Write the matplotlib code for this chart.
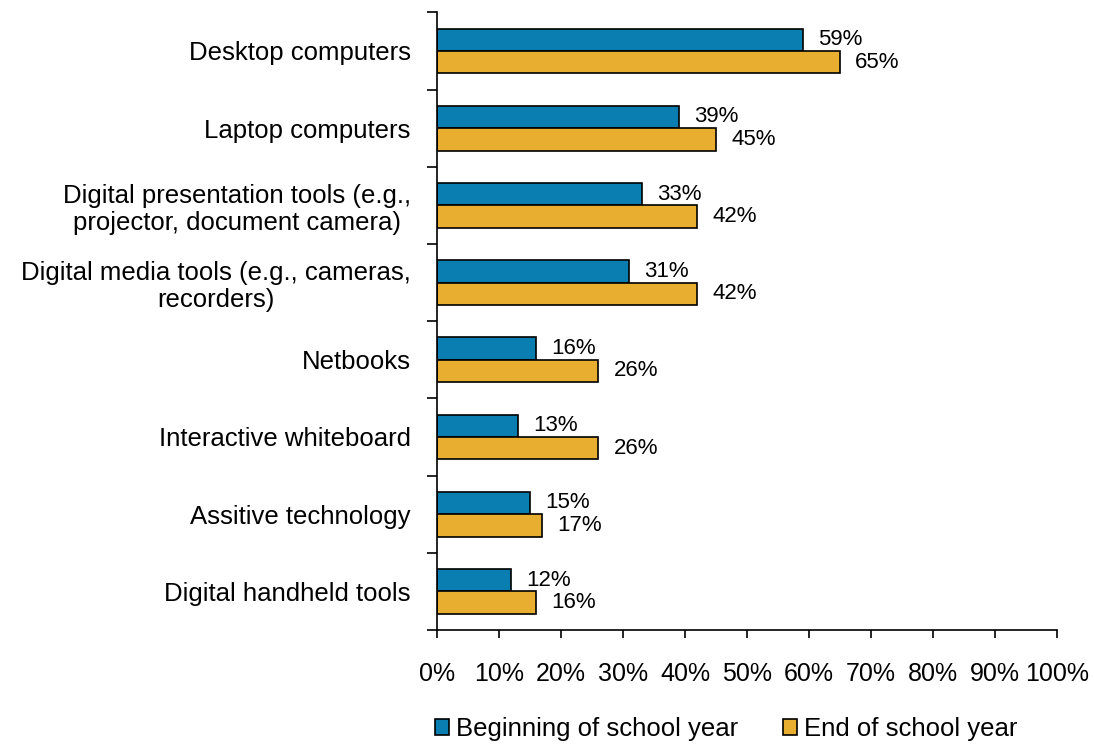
import numpy as np
import matplotlib.pyplot as plt

plt.rcParams['font.family'] = ['Liberation Sans', 'DejaVu Sans']

categories = [
    'Desktop computers',
    'Laptop computers',
    'Digital presentation tools (e.g.,\nprojector, document camera)',
    'Digital media tools (e.g., cameras,\nrecorders)',
    'Netbooks',
    'Interactive whiteboard',
    'Assitive technology',
    'Digital handheld tools',
]
beginning = [59, 39, 33, 31, 16, 13, 15, 12]
end_year = [65, 45, 42, 42, 26, 26, 17, 16]
series_names = ['Beginning of school year', 'End of school year']
blue = '#0a7eb0'
gold = '#e8ae30'

fig = plt.figure(figsize=(10.94, 7.55), dpi=100)
ax = fig.add_axes([0.3995, 0.1656, 0.5667, 0.818])

y = np.arange(len(categories))
h = 0.29
b1 = ax.barh(y - h / 2, beginning, height=h, color=blue, edgecolor='black',
             linewidth=1.2, label=series_names[0])
b2 = ax.barh(y + h / 2, end_year, height=h, color=gold, edgecolor='black',
             linewidth=1.2, label=series_names[1])

for bars, vals in ((b1, beginning), (b2, end_year)):
    for bar, v in zip(bars, vals):
        ax.annotate(f'{v}%', (bar.get_width(), bar.get_y() + bar.get_height() / 2),
                    xytext=(11, 0), textcoords='offset points',
                    ha='left', va='center', fontsize=16)

ax.set_xlim(0, 100)
ax.set_ylim(len(categories) - 0.5, -0.5)
ax.set_xticks(np.arange(0, 101, 10))
ax.set_xticklabels([f'{t}%' for t in range(0, 101, 10)])
ax.set_yticks(y)
ax.set_yticklabels(categories, multialignment='center', linespacing=1.15)
ax.set_yticks(np.arange(-0.5, len(categories)), minor=True)

ax.tick_params(axis='x', direction='out', length=6, width=1.2, pad=17, labelsize=18)
ax.tick_params(axis='y', which='major', length=0, pad=19, labelsize=18.5)
ax.tick_params(axis='y', which='minor', direction='out', length=7, width=1.2)

for s in ('top', 'right'):
    ax.spines[s].set_visible(False)
for s in ('left', 'bottom'):
    ax.spines[s].set_linewidth(1.2)

fig.legend(handles=[b1, b2], loc='lower center', bbox_to_anchor=(0.664, -0.012),
           ncol=2, frameon=False, fontsize=18.5, handlelength=0.55,
           handleheight=0.55, handletextpad=0.27, columnspacing=1.75)

fig.savefig('out.png', dpi=100)
